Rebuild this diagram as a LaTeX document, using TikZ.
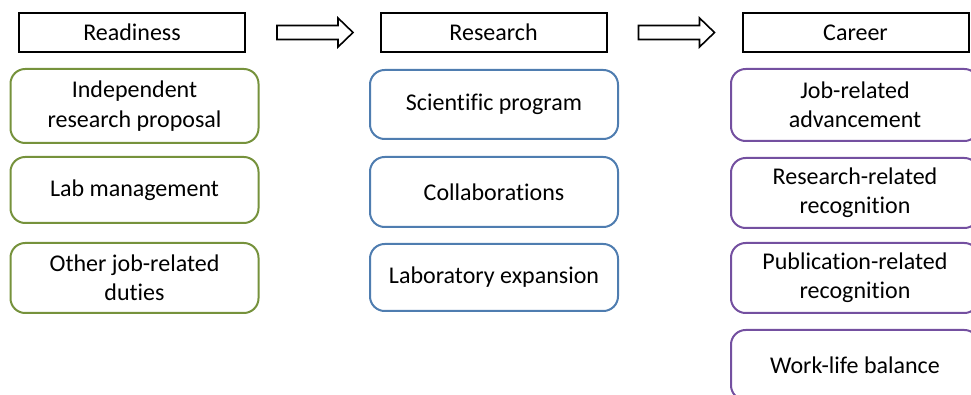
\documentclass[tikz,border=0pt]{standalone}
\usepackage{fontspec}
\setmainfont{Carlito}[Ligatures=CommonOff]
\usetikzlibrary{calc}
\definecolor{readygreen}{HTML}{76923C}
\definecolor{researchblue}{HTML}{4F7DB0}
\definecolor{careerpurple}{HTML}{7450A0}
\tikzset{
  label font/.style={font=\fontsize{18}{22}\selectfont, text=black, align=center},
  header/.style={label font, draw=black, line width=1.5pt, fill=white,
    minimum width=169.5pt, minimum height=29.25pt, inner sep=0pt},
  item/.style={label font, rounded corners=11pt, line width=1.5pt, fill=white,
    minimum width=186pt, minimum height=52.5pt, inner sep=0pt},
  gitem/.style={item, draw=readygreen},
  bitem/.style={item, draw=researchblue},
  pitem/.style={item, draw=careerpurple},
  blockarrow/.style={draw=black, line width=1.2pt, fill=white, line join=miter},
}
\begin{document}
\begin{tikzpicture}[x=0.75pt, y=-0.75pt]
\useasboundingbox (0,0) rectangle (971,395);
\clip (0,0) rectangle (971,395);

% column headers
\node[header] (hready) at (132,32.5) {Readiness};
\node[header] (hresearch) at (493.5,32.5) {Research};
\node[header] (hcareer) at (855.5,32.5) {Career};

% block arrows between the headers
\foreach \from/\to [count=\i] in {hready/hresearch, hresearch/hcareer}{
  \coordinate (s\i) at ($(\from.east)+(31,0)$);
  \draw[blockarrow] (s\i) ++(0,-7) -- ++(61,0) -- ++(0,-7.5) -- ++(15,14.5)
    -- ++(-15,14.5) -- ++(0,-7.5) -- ++(-61,0) -- cycle;
}

% Readiness items
\node[gitem, minimum height=55.5pt] (r1) at (134.5,106) {Independent\\research proposal};
\node[gitem, minimum height=49.5pt] (r2) at (134.5,190) {Lab management};
\node[gitem] (r3) at (134.5,278) {Other job-related\\duties};

% Research items
\node[bitem, minimum height=51.75pt] (s1) at (494,104.5) {Scientific program};
\node[bitem] (s2) at (494,192) {Collaborations};
\node[bitem, minimum height=50.25pt] (s3) at (494,277.5) {Laboratory expansion};

% Career items
\node[pitem, minimum height=54pt] (c1) at (855,105) {Job-related\\advancement};
\node[pitem] (c2) at (855,193) {Research-related\\recognition};
\node[pitem] (c3) at (855,278) {Publication-related\\recognition};
\node[pitem] (c4) at (855,365) {Work-life balance};
\end{tikzpicture}
\end{document}
